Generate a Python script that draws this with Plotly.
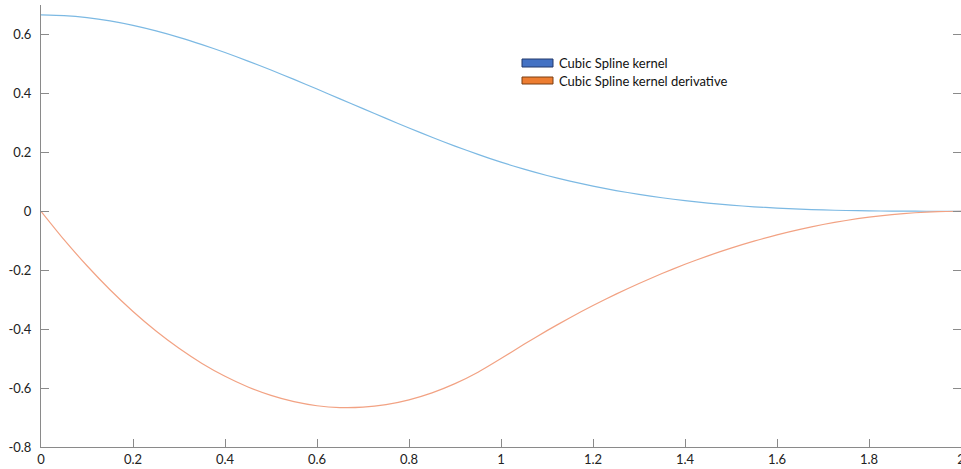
import plotly.graph_objects as go

# Values (step 0.05 in q)
q = [0.00, 0.05, 0.10, 0.15, 0.20, 0.25, 0.30, 0.35, 0.40, 0.45, 0.50,
     0.55, 0.60, 0.65, 0.70, 0.75, 0.80, 0.85, 0.90, 0.95, 1.00,
     1.05, 1.10, 1.15, 1.20, 1.25, 1.30, 1.35, 1.40, 1.45, 1.50,
     1.55, 1.60, 1.65, 1.70, 1.75, 1.80, 1.85, 1.90, 1.95, 2.00]

kernel = [0.6667, 0.6642, 0.6572, 0.6459, 0.6307, 0.6120, 0.5902, 0.5656, 0.5387, 0.5097, 0.4792,
          0.4474, 0.4147, 0.3815, 0.3482, 0.3151, 0.2827, 0.2512, 0.2212, 0.1929, 0.1667,
          0.1429, 0.1215, 0.1024, 0.0853, 0.0703, 0.0572, 0.0458, 0.0360, 0.0277, 0.0208,
          0.0152, 0.0107, 0.0071, 0.0045, 0.0026, 0.0013, 0.0006, 0.0002, 0.0000, 0.0000]

derivative = [0.0000, -0.0963, -0.1850, -0.2663, -0.3400, -0.4063, -0.4650, -0.5163, -0.5600, -0.5963, -0.6250,
              -0.6463, -0.6600, -0.6663, -0.6650, -0.6563, -0.6400, -0.6163, -0.5850, -0.5463, -0.5000,
              -0.4513, -0.4050, -0.3613, -0.3200, -0.2813, -0.2450, -0.2113, -0.1800, -0.1513, -0.1250,
              -0.1013, -0.0800, -0.0613, -0.0450, -0.0313, -0.0200, -0.0113, -0.0050, -0.0013, 0.0000]

series_names = ["Cubic Spline kernel", "Cubic Spline kernel derivative"]
line_colors = ["#7cb9e3", "#f2a283"]
legend_fills = ["#4472c4", "#ed7d31"]
legend_borders = ["#22396a", "#7a3e12"]

x_tickvals = [0, 0.2, 0.4, 0.6, 0.8, 1, 1.2, 1.4, 1.6, 1.8, 2]
x_ticktext = ["0", "0.2", "0.4", "0.6", "0.8", "1", "1.2", "1.4", "1.6", "1.8", "2"]
y_tickvals = [-0.8, -0.6, -0.4, -0.2, 0, 0.2, 0.4, 0.6]
y_ticktext = ["-0.8", "-0.6", "-0.4", "-0.2", "0", "0.2", "0.4", "0.6"]

FONT = "Lato"
axis_col = "#8a8a8a"

fig = go.Figure()
fig.add_trace(go.Scatter(x=q, y=kernel, mode="lines", name=series_names[0],
                         line=dict(color=line_colors[0], width=1.2, shape="spline", smoothing=0.6),
                         showlegend=False))
fig.add_trace(go.Scatter(x=q, y=derivative, mode="lines", name=series_names[1],
                         line=dict(color=line_colors[1], width=1.2, shape="spline", smoothing=0.6),
                         showlegend=False))
# helper trace on the mirrored right axis (no visible marks)
fig.add_trace(go.Scatter(x=[q[0]], y=[kernel[0]], yaxis="y2", mode="markers",
                         marker=dict(opacity=0), showlegend=False, hoverinfo="skip"))

fig.update_layout(
    width=961, height=469,
    margin=dict(l=41, r=0, t=5, b=22),
    paper_bgcolor="white", plot_bgcolor="white",
    font=dict(family=FONT, size=13, color="#222222"),
    xaxis=dict(range=[0, 2], tickvals=x_tickvals, ticktext=x_ticktext,
               showgrid=False, zeroline=False, showline=True, linecolor=axis_col, linewidth=1,
               ticks="inside", ticklen=8, tickcolor=axis_col, tickwidth=1,
               ticklabeloverflow="allow", automargin=False),
    yaxis=dict(range=[-0.8, 0.7], tickvals=y_tickvals, ticktext=y_ticktext,
               showgrid=False, zeroline=False, showline=True, linecolor=axis_col, linewidth=1,
               ticks="inside", ticklen=8, tickcolor=axis_col, tickwidth=1,
               ticklabelstandoff=6, ticklabeloverflow="allow", automargin=False),
    yaxis2=dict(range=[-0.8, 0.7], tickvals=y_tickvals, overlaying="y", side="right",
                showgrid=False, zeroline=False, showline=False, showticklabels=False,
                ticks="inside", ticklen=8, tickcolor=axis_col, tickwidth=1, automargin=False),
    showlegend=False,
)

# Manual legend (wide rectangular swatches)
px_w, px_h = 920.0, 442.0
def px_x(p):
    return (p - 41) / px_w
def px_y(p):
    return 1 - (p - 5) / px_h

swatch_rows = [(59, 67), (77, 84)]
for i, name in enumerate(series_names):
    y0p, y1p = swatch_rows[i]
    fig.add_shape(type="rect", xref="paper", yref="paper",
                  x0=px_x(522), x1=px_x(553), y0=px_y(y1p), y1=px_y(y0p),
                  fillcolor=legend_fills[i], line=dict(color=legend_borders[i], width=1))
    fig.add_annotation(xref="paper", yref="paper", x=px_x(557), y=px_y((y0p + y1p) / 2),
                       text=name, showarrow=False, xanchor="left", yanchor="middle",
                       font=dict(family=FONT, size=13, color="#111111"))

fig.write_html("out.html")
